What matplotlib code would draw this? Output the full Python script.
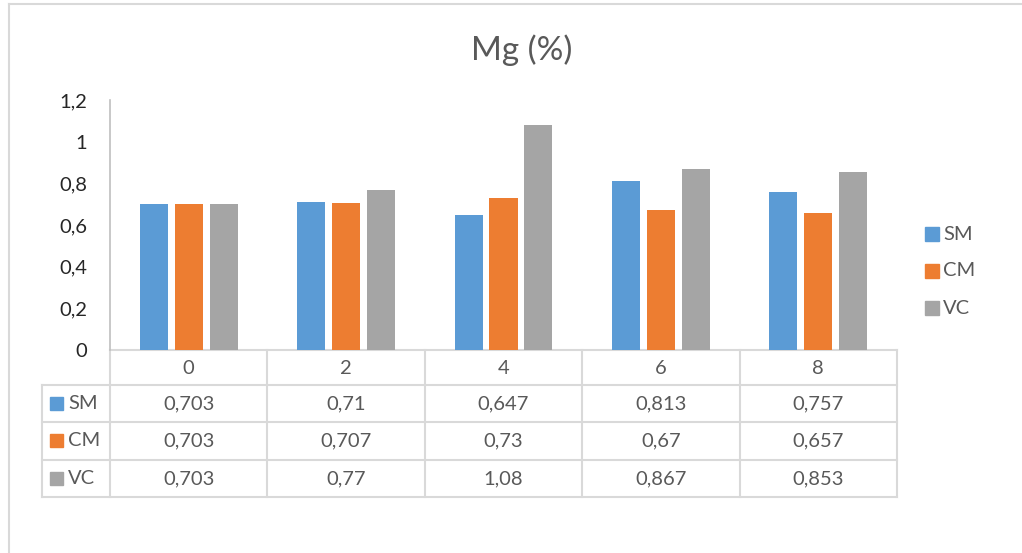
import numpy as np
import matplotlib
matplotlib.use("Agg")
import matplotlib.pyplot as plt
from matplotlib.patches import Rectangle

# Mg content per sampling time
days = ["0", "2", "4", "6", "8"]
sm = [0.703, 0.71, 0.647, 0.813, 0.757]
cm = [0.703, 0.707, 0.73, 0.67, 0.657]
vc = [0.703, 0.77, 1.08, 0.867, 0.853]
series_names = ["SM", "CM", "VC"]
colors = ["#5b9bd5", "#ed7d31", "#a5a5a5"]
y_ticks = [0, 0.2, 0.4, 0.6, 0.8, 1.0, 1.2]

plt.rcParams["font.family"] = ["Lato", "DejaVu Sans"]

W, H = 1022, 553
fig = plt.figure(figsize=(W / 100, H / 100), dpi=100)

# plot area in pixel coordinates
x0, x1 = 110, 897
y_top, y_zero = 100, 350
row_h = [35, 37, 38, 37]
grid_c = "#d9d9d9"
text_c = "#595959"
fs = 14.5

# overlay axes in pixel space for frame, table and legend
ov = fig.add_axes([0, 0, 1, 1])
ov.set_xlim(0, W)
ov.set_ylim(H, 0)
ov.axis("off")

ax = fig.add_axes([x0 / W, (H - y_zero) / H, (x1 - x0) / W, (y_zero - y_top) / H])
ax.patch.set_alpha(0)

x = np.arange(len(days))
bw = 0.178
step = 0.222
for i, (vals, c) in enumerate(zip([sm, cm, vc], colors)):
    ax.bar(x + (i - 1) * step, vals, width=bw, color=c, zorder=2)

ax.set_xlim(-0.5, len(days) - 0.5)
ax.set_ylim(0, 1.2)
ax.set_yticks(y_ticks)
ax.set_yticklabels([f"{t:g}".replace(".", ",") for t in y_ticks], fontsize=fs, color="#262626")
ax.tick_params(axis="y", length=0, pad=16.5)
ax.set_xticks([])
for s in ["top", "right", "bottom"]:
    ax.spines[s].set_visible(False)
ax.spines["left"].set_color("#bfbfbf")
ax.spines["left"].set_linewidth(1.2)

fig.text(522 / W, 1 - 50 / H, "Mg (%)", ha="center", va="center", fontsize=24, color=text_c)

# outer chart border
ov.plot([9, W], [4, 4], color="#d9d9d9", lw=1.5)
ov.plot([9, 9], [4, H], color="#d9d9d9", lw=1.5)

# data table
col_w = (x1 - x0) / len(days)
ys = [y_zero]
for h in row_h:
    ys.append(ys[-1] + h)
tab_left = 42
ov.plot([x0, x1], [ys[0], ys[0]], color=grid_c, lw=1.5)
for yy in ys[1:]:
    ov.plot([tab_left, x1], [yy, yy], color=grid_c, lw=1.5)
for k in range(len(days) + 1):
    xx = x0 + k * col_w
    ov.plot([xx, xx], [ys[0], ys[-1]], color=grid_c, lw=1.5)
ov.plot([tab_left, tab_left], [ys[1], ys[-1]], color=grid_c, lw=1.5)

for k, d in enumerate(days):
    ov.text(x0 + (k + 0.5) * col_w, (ys[0] + ys[1]) / 2 + 1, d, ha="center", va="center",
            fontsize=fs, color=text_c)
for r, (name, vals, c) in enumerate(zip(series_names, [sm, cm, vc], colors)):
    yc = (ys[r + 1] + ys[r + 2]) / 2
    ov.add_patch(Rectangle((50, yc - 7), 13, 13, color=c))
    ov.text(68, yc, name, ha="left", va="center", fontsize=fs, color=text_c)
    for k, v in enumerate(vals):
        ov.text(x0 + (k + 0.5) * col_w, yc, f"{v:g}".replace(".", ","), ha="center",
                va="center", fontsize=fs, color=text_c)

# legend on the right
for r, (name, c) in enumerate(zip(series_names, colors)):
    yc = 234 + r * 37
    ov.add_patch(Rectangle((925, yc - 7), 14, 14, color=c))
    ov.text(943, yc, name, ha="left", va="center", fontsize=fs, color=text_c)

fig.savefig("out.png", dpi=100)
